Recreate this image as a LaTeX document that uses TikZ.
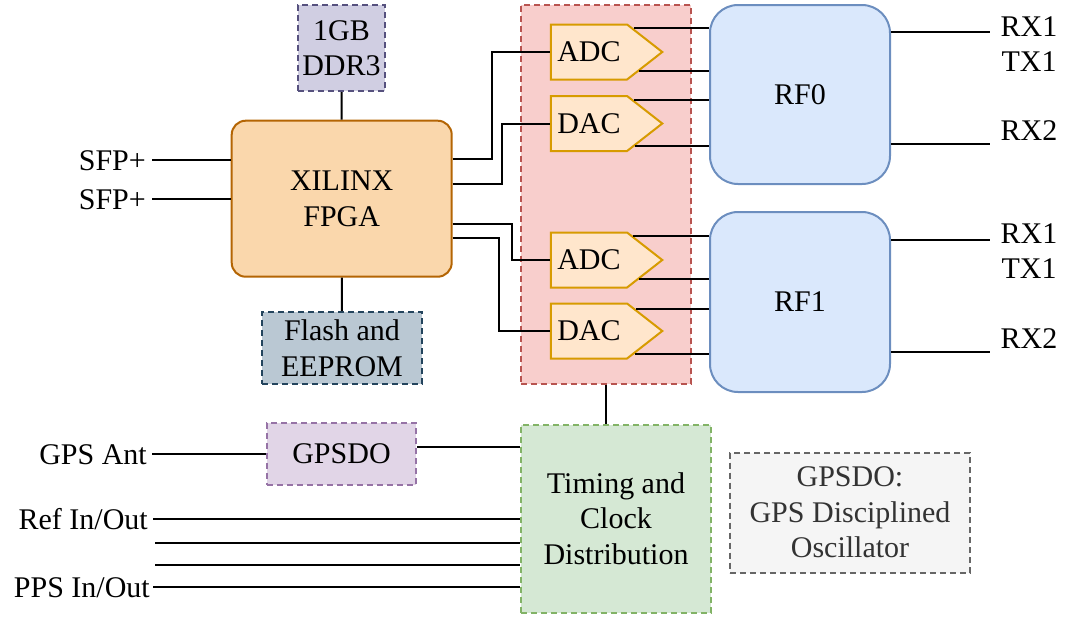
\documentclass[tikz,border=0pt]{standalone}
\usepackage{fontspec}
\setmainfont{Liberation Serif}
\usetikzlibrary{shapes.symbols,calc}

\definecolor{ddrfill}{HTML}{D0CEE2}
\definecolor{ddrline}{HTML}{56517E}
\definecolor{fpgafill}{HTML}{FAD7AC}
\definecolor{fpgaline}{HTML}{B46504}
\definecolor{flashfill}{HTML}{BAC8D3}
\definecolor{flashline}{HTML}{23445D}
\definecolor{convboxfill}{HTML}{F8CECC}
\definecolor{convboxline}{HTML}{B85450}
\definecolor{convfill}{HTML}{FFE6CC}
\definecolor{convline}{HTML}{D79B00}
\definecolor{rffill}{HTML}{DAE8FC}
\definecolor{rfline}{HTML}{6C8EBF}
\definecolor{gpsfill}{HTML}{E1D5E7}
\definecolor{gpsline}{HTML}{9673A6}
\definecolor{clkfill}{HTML}{D5E8D4}
\definecolor{clkline}{HTML}{82B366}
\definecolor{notefill}{HTML}{F5F5F5}
\definecolor{noteline}{HTML}{666666}
\definecolor{notetext}{HTML}{333333}

\tikzset{
  blk/.style={draw, line width=2pt, align=center, inner sep=0pt},
  dashblk/.style={blk, dash pattern=on 6pt off 4pt},
  conv/.style={signal, signal to=east, signal pointer angle=76, draw=convline,
    fill=convfill, line width=2pt, minimum height=55pt, inner xsep=6.4pt, inner ysep=0pt},
  wire/.style={line width=2pt},
  lbl/.style={text height=20pt, text depth=0pt, inner sep=0pt},
}

\begin{document}
\begin{tikzpicture}[x=1pt,y=-1pt,font=\fontsize{30}{35.5}\selectfont]
        \useasboundingbox (0,0) rectangle (1072,622);

        % 1. Boxes
        \node[dashblk, draw=ddrline, fill=ddrfill, minimum width=87, minimum height=86] (ddr) at (341.5,48) {1GB\\DDR3};
        \node[blk, draw=fpgaline, fill=fpgafill, rounded corners=14pt, minimum width=220, minimum height=156] (fpga) at (341.7,198.7) {XILINX\\FPGA};
        \node[dashblk, draw=flashline, fill=flashfill, minimum width=160, minimum height=72] (flash) at (342,348) {Flash and\\EEPROM};
        \node[dashblk, draw=convboxline, fill=convboxfill, minimum width=170, minimum height=379] (convbox) at (605.5,194) {};
        \node[conv] (adc0) at (589,52) {ADC};
        \node[conv] (dac0) at (589,123.5) {DAC};
        \node[conv] (adc1) at (589,260) {ADC};
        \node[conv] (dac1) at (589,331) {DAC};
        \node[blk, draw=rfline, fill=rffill, rounded corners=28pt, minimum width=180, minimum height=179] (rf0) at (800,94.5) {RF0};
        \node[blk, draw=rfline, fill=rffill, rounded corners=28pt, minimum width=180, minimum height=180] (rf1) at (800,302) {RF1};
        \node[dashblk, draw=gpsline, fill=gpsfill, minimum width=149, minimum height=62] (gpsdo) at (341.5,454) {GPSDO};
        \node[dashblk, draw=clkline, fill=clkfill, minimum width=190, minimum height=188] (clk) at (616,518.5) {Timing and\\Clock\\Distribution};
        \node[dashblk, draw=noteline, fill=notefill, text=notetext, minimum width=240, minimum height=120] (note) at (850,512.7) {GPSDO:\\GPS Disciplined\\Oscillator};

        % 2. Port labels
        \node[lbl, anchor=east] (sfp0) at (146,160) {SFP+};
        \node[lbl, anchor=east] (sfp1) at (146,199) {SFP+};
        \node[lbl, anchor=east] (gpsant) at (147,454) {GPS Ant};
        \node[lbl, anchor=east] (ref) at (148,519) {Ref In/Out};
        \node[lbl, anchor=east] (pps) at (150,587) {PPS In/Out};
        \node[align=center, inner sep=0pt] (rxtx0) at (1029,44.2) {RX1\\TX1};
        \node[lbl] (rxb0) at (1029,130) {RX2};
        \node[align=center, inner sep=0pt] (rxtx1) at (1029,251) {RX1\\TX1};
        \node[lbl] (rxb1) at (1029,338) {RX2};
        \coordinate (clkin0) at (155,543);
        \coordinate (clkin1) at (155,565);
        \coordinate (rfend) at (990,0);

        % 3. FPGA side
        \draw[wire] (ddr) -- (fpga);
        \draw[wire] (fpga) -- (flash);
        \draw[wire] ([xshift=6pt]sfp0.east) -- (sfp0 -| fpga.west);
        \draw[wire] ([xshift=6pt]sfp1.east) -- (sfp1 -| fpga.west);
        \draw[wire] (fpga.east |- 0,159) -- ++(39,0) |- (adc0.west);
        \draw[wire] (fpga.east |- 0,184) -- ++(49,0) |- (dac0.west);
        \draw[wire] (fpga.east |- 0,224) -- ++(59,0) |- (adc1.west);
        \draw[wire] (fpga.east |- 0,238) -- ++(46,0) |- (dac1.west);

        % 4. Converters to RF
        \foreach \c/\r/\a/\b in {adc0/rf0/.17/.33, dac0/rf0/.18/.21, adc1/rf1/.16/.33, dac1/rf1/.24/.21} {
            \draw[wire] ($(\c.north east)!\a!(\c.east)$) coordinate (t) -- (t -| \r.west);
            \draw[wire] ($(\c.south east)!\b!(\c.east)$) coordinate (t) -- (t -| \r.west);
        }

        % 5. RF ports
        \draw[wire] (rf0.east |- 0,32) -- (rfend |- 0,32);
        \draw[wire] (rf0.east |- 0,144) -- (rfend |- 0,144);
        \draw[wire] (rf1.east |- 0,240) -- (rfend |- 0,240);
        \draw[wire] (rf1.east |- 0,352) -- (rfend |- 0,352);

        % 6. Timing
        \draw[wire] (convbox.south) -- (convbox.south |- clk.north);
        \draw[wire] ([xshift=5pt]gpsant.east) -- (gpsdo.west);
        \draw[wire] ([yshift=7pt]gpsdo.east) -- ([yshift=7pt]gpsdo.east -| clk.west);
        \draw[wire] ([xshift=5pt]ref.east) -- (ref.east -| clk.west);
        \draw[wire] (clkin0) -- (clkin0 -| clk.west);
        \draw[wire] (clkin1) -- (clkin1 -| clk.west);
        \draw[wire] ([xshift=3pt]pps.east) -- (pps.east -| clk.west);

    \end{tikzpicture}
\end{document}
